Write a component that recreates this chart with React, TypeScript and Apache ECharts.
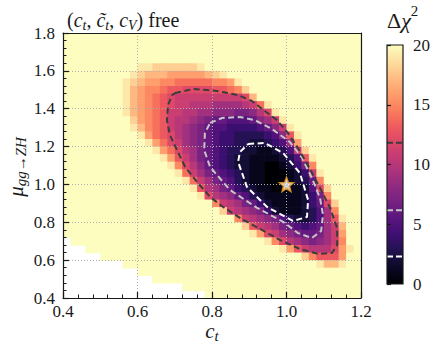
import React, { useEffect, useRef } from 'react';
import * as echarts from 'echarts';

// ---- axes ----
const X_MIN = 0.4;
const X_MAX = 1.2;
const Y_MIN = 0.4;
const Y_MAX = 1.8;
const TICK_STEP = 0.2;
const X_TICKS = [0.4, 0.6, 0.8, 1.0, 1.2];
const Y_TICKS = [0.4, 0.6, 0.8, 1.0, 1.2, 1.4, 1.6, 1.8];
const CB_MIN = 0;
const CB_MAX = 20;
const CB_STEP = 5;
const CB_TICKS = [0, 5, 10, 15, 20];

// ---- Δχ² grid (cell centres) ----
const CELL_X_FIRST = 0.41;
const CELL_DX = 0.02;
const CELL_COLS = 40;
const CELL_Y_FIRST = 1.78; // top row
const CELL_DY = 0.04;
const CELL_ROWS = 35;
const CLIPPED_LEVEL = 20; // Δχ² ≥ 20 (pale yellow)

// [row from top, first column, values: 0-9 -> 0-9, a-j -> 10-19]
const DCHI2_ROWS: [number, number, string][] = [
  [4, 10, 'jjiiiiiij'],
  [5, 9, 'jihhhggggghij'],
  [6, 8, 'jihggffeeeeeffgj'],
  [7, 8, 'jhgffeddccccddefi'],
  [8, 8, 'jhgfedcbbbbbbbbbch'],
  [9, 8, 'jhgfedcbbaaa9999abej'],
  [10, 8, 'jhgfedbbaa99888778acj'],
  [11, 9, 'igfedbaa98766555689bj'],
  [12, 9, 'jhfedba9876554444568bj'],
  [13, 10, 'jgedca98765443333458dj'],
  [14, 11, 'jgecb987654433223459g'],
  [15, 12, 'jgeca97654332211235bi'],
  [16, 13, 'jgdb976543221111235dj'],
  [17, 14, 'jfca865432211001247f'],
  [18, 15, 'jeb976543211000124bj'],
  [19, 16, 'jeb976532110001236f'],
  [20, 17, 'jda97643211001125ci'],
  [21, 18, 'jca98653211111247f'],
  [22, 20, 'fba976421111246ci'],
  [23, 21, 'iba987421112359f'],
  [24, 23, 'fba9875322359dj'],
  [25, 24, 'idba97654569bh'],
  [26, 25, 'jgcb9876679bg'],
  [27, 27, 'jfca98789bf'],
  [28, 29, 'jgdbaaacgj'],
  [29, 32, 'ifdddg'],
  [30, 34, 'jhhj'],
];

// number of empty (no-data) cells from the bottom, per column
const EMPTY_CELLS_FROM_BOTTOM = [8, 7, 7, 6, 6, 5, 5, 5, 4, 4, 3, 3, 2, 2, 2, 2, 1, 1, 1];

// ---- contours ----
const CONTOUR_LEVELS = [2.3, 6.18, 11.83];
const CONTOUR_2_3: [number, number][] = [
  [0.897, 1.214], [0.942, 1.219], [0.991, 1.166], [1.036, 1.06], [1.058, 0.918], [1.055, 0.828],
  [1.017, 0.807], [0.948, 0.881], [0.894, 0.986], [0.87, 1.119], [0.875, 1.171], [0.897, 1.214],
];
const CONTOUR_6_18: [number, number][] = [
  [0.795, 1.325], [0.827, 1.351], [0.875, 1.356], [0.915, 1.34], [0.961, 1.293], [1.009, 1.224],
  [1.042, 1.14], [1.068, 1.034], [1.09, 0.928], [1.098, 0.839], [1.093, 0.754], [1.068, 0.717],
  [1.031, 0.743], [0.991, 0.802], [0.921, 0.876], [0.848, 0.971], [0.795, 1.092], [0.779, 1.182],
  [0.781, 1.272], [0.795, 1.325],
];
const CONTOUR_11_83: [number, number][] = [
  [0.701, 1.483], [0.749, 1.504], [0.813, 1.494], [0.87, 1.472], [0.907, 1.441], [0.942, 1.388],
  [0.974, 1.34], [1.004, 1.272], [1.034, 1.182], [1.06, 1.092], [1.09, 0.981], [1.117, 0.876],
  [1.136, 0.77], [1.136, 0.68], [1.122, 0.638], [1.085, 0.633], [1.036, 0.659], [0.983, 0.706],
  [0.929, 0.765], [0.875, 0.823], [0.83, 0.881], [0.795, 0.934], [0.76, 1.013], [0.728, 1.092],
  [0.706, 1.182], [0.687, 1.261], [0.679, 1.34], [0.682, 1.42], [0.693, 1.472], [0.701, 1.483],
];
const CONTOUR_COLORS = ['#ffffff', '#c6c6c6', '#3c3c3c'];

const BEST_FIT: [number, number][] = [[1.0, 1.0]];

const MAGMA = [
  '#000004', '#07061c', '#140e36', '#251255', '#3b0f70', '#51127c', '#641a80', '#782281',
  '#8c2981', '#a1307e', '#b73779', '#cb3e71', '#de4968', '#ec5860', '#f7705c', '#fc8961',
  '#fe9f6d', '#feb77e', '#fecf92', '#fde7a9', '#fcfdbf',
];

const FONT = 'Liberation Serif';
const INK = '#1a1a1a';
const STAR =
  'path://M50,2 L62.3,33 L95.65,35.17 L70,56.5 L78.21,88.83 L50,71 L21.79,88.83 L30,56.5 L4.35,35.17 L37.7,33 Z';

type Run = { t: string; size: number; italic?: boolean; dy?: number };

const TITLE_RUNS: Run[] = [
  { t: '(', size: 20 },
  { t: 'c', size: 20, italic: true },
  { t: 't', size: 14, italic: true, dy: 5 },
  { t: ', ', size: 20 },
  { t: 'c\u0303', size: 20, italic: true },
  { t: 't', size: 14, italic: true, dy: 5 },
  { t: ', ', size: 20 },
  { t: 'c', size: 20, italic: true },
  { t: 'V', size: 14, italic: true, dy: 5 },
  { t: ') free', size: 20 },
];
const CB_TITLE_RUNS: Run[] = [
  { t: '\u0394', size: 22 },
  { t: '\u03c7', size: 22, italic: true },
  { t: '2', size: 15, dy: -9 },
];
const X_NAME_RUNS: Run[] = [
  { t: 'c', size: 21, italic: true },
  { t: 't', size: 15, italic: true, dy: 5 },
];
const Y_NAME_RUNS: Run[] = [
  { t: '\u03bc', size: 21, italic: true },
  { t: 'gg', size: 15, italic: true, dy: 5 },
  { t: '\u2192', size: 15, dy: 5 },
  { t: 'ZH', size: 15, italic: true, dy: 5 },
];

function levelOf(ch: string): number {
  return ch <= '9' ? Number(ch) : ch.charCodeAt(0) - 87;
}

function buildCells(): [number, number, number][] {
  const grid: number[][] = [];
  for (let r = 0; r < CELL_ROWS; r++) {
    grid.push(new Array(CELL_COLS).fill(CLIPPED_LEVEL));
  }
  DCHI2_ROWS.forEach(([r, c0, s]) => {
    for (let k = 0; k < s.length; k++) grid[r][c0 + k] = levelOf(s[k]);
  });
  const out: [number, number, number][] = [];
  for (let r = 0; r < CELL_ROWS; r++) {
    for (let c = 0; c < CELL_COLS; c++) {
      const empty = EMPTY_CELLS_FROM_BOTTOM[c] || 0;
      if (r >= CELL_ROWS - empty) continue;
      const x = +(CELL_X_FIRST + c * CELL_DX).toFixed(3);
      const y = +(CELL_Y_FIRST - r * CELL_DY).toFixed(3);
      out.push([x, y, grid[r][c]]);
    }
  }
  return out;
}

let measureCtx: CanvasRenderingContext2D | null = null;
function textWidth(t: string, size: number, italic?: boolean): number {
  if (!measureCtx) measureCtx = document.createElement('canvas').getContext('2d');
  if (!measureCtx) return t.length * size * 0.5;
  measureCtx.font = `${italic ? 'italic ' : ''}${size}px ${FONT}`;
  return measureCtx.measureText(t).width;
}

function plainText(t: string, x: number, y: number, size: number, align: string, italic = false): any {
  const style: any = {
    text: t,
    fontFamily: FONT,
    fontSize: size,
    fill: INK,
    align,
    verticalAlign: 'middle',
  };
  if (italic) style.fontStyle = 'italic';
  return { type: 'text', x, y, style };
}

function runsGroup(runs: Run[], x: number, y: number, align: 'left' | 'center', rotation = 0): any {
  const widths = runs.map((r) => textWidth(r.t, r.size, r.italic));
  const total = widths.reduce((a, b) => a + b, 0);
  let cx = align === 'center' ? -total / 2 : 0;
  const children = runs.map((r, i) => {
    const el = plainText(r.t, cx, r.dy || 0, r.size, 'left', !!r.italic);
    cx += widths[i];
    return el;
  });
  return { type: 'group', x, y, rotation, children };
}

export default function App() {
  const ref = useRef<HTMLDivElement>(null);

  useEffect(() => {
    if (!ref.current) return;
    const chart = echarts.init(ref.current, undefined, { renderer: 'svg' });
    const cells = buildCells();
    const contours = [CONTOUR_2_3, CONTOUR_6_18, CONTOUR_11_83];

    const gradStops = MAGMA.slice()
      .reverse()
      .map((c, i, arr) => ({ offset: i / (arr.length - 1), color: c }));

    const frameLine = { show: true, onZero: false, lineStyle: { color: INK, width: 1.2 } };

    const option: any = {
      animation: false,
      backgroundColor: '#ffffff',
      grid: [
        { left: 63, top: 33, width: 298, height: 265 },
        { left: 387, top: 45, width: 16, height: 239 },
      ],
      xAxis: [
        {
          gridIndex: 0,
          type: 'value',
          min: X_MIN,
          max: X_MAX,
          interval: TICK_STEP,
          position: 'bottom',
          z: 3,
          axisLine: frameLine,
          axisTick: { show: true, inside: true, length: 6, lineStyle: { color: INK, width: 1.2 } },
          minorTick: { show: true, splitNumber: 5, length: 3.5, lineStyle: { color: INK, width: 1 } },
          axisLabel: { show: false },
          splitLine: { show: true, lineStyle: { color: '#b0b0b0', width: 1, type: [1, 2] } },
        },
        {
          gridIndex: 0,
          type: 'value',
          min: X_MIN,
          max: X_MAX,
          position: 'top',
          z: 3,
          axisLine: frameLine,
          axisTick: { show: false },
          axisLabel: { show: false },
          splitLine: { show: false },
        },
        { gridIndex: 1, type: 'value', min: 0, max: 1, show: false },
      ],
      yAxis: [
        {
          gridIndex: 0,
          type: 'value',
          min: Y_MIN,
          max: Y_MAX,
          interval: TICK_STEP,
          position: 'left',
          z: 3,
          axisLine: frameLine,
          axisTick: { show: true, inside: true, length: 6, lineStyle: { color: INK, width: 1.2 } },
          minorTick: { show: true, splitNumber: 5, length: 3.5, lineStyle: { color: INK, width: 1 } },
          axisLabel: { show: false },
          splitLine: { show: true, lineStyle: { color: '#b0b0b0', width: 1, type: [1, 2] } },
        },
        {
          gridIndex: 0,
          type: 'value',
          min: Y_MIN,
          max: Y_MAX,
          position: 'right',
          z: 3,
          axisLine: frameLine,
          axisTick: { show: false },
          axisLabel: { show: false },
          splitLine: { show: false },
        },
        {
          gridIndex: 1,
          type: 'value',
          min: CB_MIN,
          max: CB_MAX,
          interval: CB_STEP,
          position: 'right',
          z: 5,
          axisLine: { show: false },
          axisTick: { show: true, inside: false, length: 4, lineStyle: { color: INK, width: 1.2 } },
          axisLabel: { show: false },
          splitLine: { show: false },
        },
      ],
      visualMap: {
        type: 'continuous',
        show: false,
        min: CB_MIN,
        max: CB_MAX,
        dimension: 2,
        seriesIndex: 0,
        inRange: { color: MAGMA },
      },
      series: [
        {
          type: 'custom',
          xAxisIndex: 0,
          yAxisIndex: 0,
          data: cells,
          clip: true,
          silent: true,
          z: 1,
          encode: { x: 0, y: 1 },
          renderItem: (_p: any, api: any) => {
            const x = api.value(0);
            const y = api.value(1);
            const a = api.coord([x - CELL_DX / 2, y + CELL_DY / 2]);
            const b = api.coord([x + CELL_DX / 2, y - CELL_DY / 2]);
            return {
              type: 'rect',
              shape: { x: a[0], y: a[1], width: b[0] - a[0] + 0.7, height: b[1] - a[1] + 0.7 },
              style: { fill: api.visual('color') },
            };
          },
        },
        ...contours.map((pts, k) => ({
          type: 'line',
          xAxisIndex: 0,
          yAxisIndex: 0,
          data: pts,
          symbol: 'none',
          smooth: false,
          silent: true,
          z: 4,
          lineStyle: { color: CONTOUR_COLORS[k], width: 2, type: [6, 3.5] },
        })),
        {
          type: 'scatter',
          xAxisIndex: 0,
          yAxisIndex: 0,
          data: BEST_FIT,
          symbol: STAR,
          symbolSize: 14,
          silent: true,
          z: 5,
          itemStyle: { color: '#ffffff', borderColor: '#f39c1f', borderWidth: 1.6 },
        },
        ...CONTOUR_LEVELS.map((lv, k) => ({
          type: 'line',
          xAxisIndex: 2,
          yAxisIndex: 2,
          data: [
            [0, lv],
            [1, lv],
          ],
          symbol: 'none',
          silent: true,
          z: 3,
          lineStyle: { color: CONTOUR_COLORS[k], width: 2, type: [6, 3] },
        })),
      ],
    };

    chart.setOption(option);

    // tick labels placed through the axes' own scales
    const xLabels = X_TICKS.map((v) => {
      const px = chart.convertToPixel({ xAxisIndex: 0 }, v) as number;
      return plainText(v.toFixed(1), px, 311.5, 17, 'center');
    });
    const yLabels = Y_TICKS.map((v) => {
      const py = chart.convertToPixel({ yAxisIndex: 0 }, v) as number;
      return plainText(v.toFixed(1), 55, py, 17, 'right');
    });
    const cbLabels = CB_TICKS.map((v) => {
      const py = chart.convertToPixel({ yAxisIndex: 2 }, v) as number;
      return plainText(String(v), 413, py, 17, 'left');
    });

    chart.setOption({
      graphic: {
        elements: [
          {
            type: 'rect',
            z: 0,
            shape: { x: 387, y: 45, width: 16, height: 239 },
            style: { fill: new echarts.graphic.LinearGradient(0, 0, 0, 1, gradStops) },
          },
          {
            type: 'rect',
            z: 10,
            shape: { x: 387, y: 45, width: 16, height: 239 },
            style: { fill: 'none', stroke: INK, lineWidth: 1.2 },
          },
          ...xLabels,
          ...yLabels,
          ...cbLabels,
          runsGroup(TITLE_RUNS, 67, 20, 'left'),
          runsGroup(CB_TITLE_RUNS, 387, 20, 'left'),
          runsGroup(X_NAME_RUNS, 212, 331, 'center'),
          runsGroup(Y_NAME_RUNS, 16, 167, 'center', Math.PI / 2),
        ],
      },
    });

    return () => chart.dispose();
  }, []);

  return (
    <div
      ref={ref}
      style={{ position: 'absolute', left: 0, top: 0, width: 441, height: 355 }}
    />
  );
}
